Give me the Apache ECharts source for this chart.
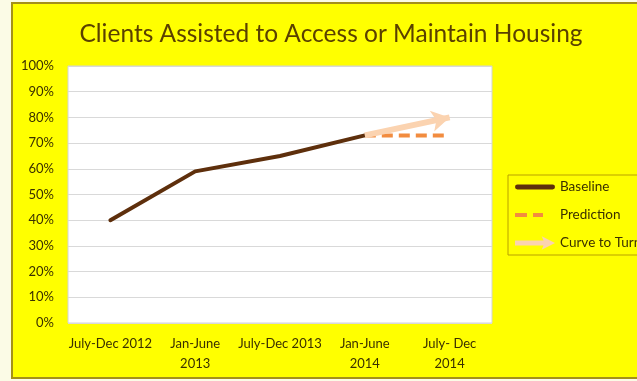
<!DOCTYPE html>
<html>
<head>
<meta charset="utf-8">
<script src="https://cdn.jsdelivr.net/npm/echarts@6/dist/echarts.min.js"></script>
<style>
  html, body { margin: 0; padding: 0; width: 637px; height: 381px; overflow: hidden; background: #fbfbe6; }
  #frame {
    position: absolute; left: 11px; top: 2px; width: 640px; height: 377px;
    box-sizing: border-box; border: 2px solid #a4901a; background: #ffff00;
  }
  #chart { width: 636px; height: 373px; }
</style>
</head>
<body>
<div id="frame"><div id="chart"></div></div>
<script>
// Reporting periods along the horizontal axis
const periods = ['July-Dec 2012', 'Jan-June\n2013', 'July-Dec 2013', 'Jan-June\n2014', 'July- Dec\n2014'];
// Share of clients assisted (%)
const baseline = [40, 59, 65, 73, null];
const prediction = [null, null, null, 73, 73];
const curveToTurn = [null, null, null, 73, 80];
// Percent axis
const yMin = 0, yMax = 100, yStep = 10;

const font = 'Lato, "Open Sans", sans-serif';
const textDark = '#3a3000';

const chart = echarts.init(document.getElementById('chart'), null, { renderer: 'canvas' });

// Segment of the curve series as [start, end] coordinates on the axes
const curvePts = curveToTurn
  .map((v, i) => (v == null ? null : [i, v]))
  .filter(Boolean);

chart.setOption({
  animation: false,
  backgroundColor: 'transparent',
  title: {
    text: 'Clients Assisted to Access or Maintain Housing',
    left: 'center',
    top: 13,
    textStyle: { fontFamily: font, fontSize: 24.5, fontWeight: 'normal', color: '#5a4000' }
  },
  grid: {
    left: 55, top: 62, width: 424, height: 257,
    show: true, backgroundColor: '#ffffff', borderColor: '#d4d4d4', borderWidth: 1
  },
  legend: {
    orient: 'vertical',
    left: 495, top: 171,
    padding: [5, 60, 5, 7],
    itemGap: 14, itemWidth: 40, itemHeight: 14,
    borderColor: '#b8a100', borderWidth: 1,
    textStyle: { fontFamily: font, fontSize: 13.5, color: textDark },
    data: [
      { name: 'Baseline', icon: 'path://M0,0 M2,4.5 L38,4.5 A2.5,2.5 0 0 1 38,9.5 L2,9.5 A2.5,2.5 0 0 1 2,4.5 Z M40,14', itemStyle: { color: '#5e2f0c' } },
      { name: 'Prediction', icon: 'path://M0,0 M0,5 L12,5 L12,9 L0,9 Z M18,5 L28,5 L28,9 L18,9 Z M40,14', itemStyle: { color: '#f28c3f' } },
      { name: 'Curve to Turn', icon: 'path://M0,0 M0,4.5 L30,4.5 L28,0 L42,7 L28,14 L30,9.5 L0,9.5 Z M42,14', itemStyle: { color: '#fbd3b0' } }
    ]
  },
  xAxis: {
    type: 'category',
    data: periods,
    boundaryGap: true,
    axisLine: { show: false },
    axisTick: { show: false },
    axisLabel: {
      interval: 0, margin: 11, lineHeight: 20, verticalAlign: 'top',
      fontFamily: font, fontSize: 13, color: textDark
    }
  },
  yAxis: {
    type: 'value',
    min: yMin, max: yMax, interval: yStep,
    axisLine: { show: false },
    axisTick: { show: false },
    splitLine: { lineStyle: { color: '#d9d9d9', width: 1 } },
    axisLabel: { formatter: '{value}%', margin: 14, fontFamily: font, fontSize: 13, color: textDark }
  },
  series: [
    {
      name: 'Baseline', type: 'line', data: baseline,
      symbol: 'none', z: 3,
      lineStyle: { color: '#5e2f0c', width: 4, cap: 'round', join: 'round' },
      itemStyle: { color: '#5e2f0c' }
    },
    {
      name: 'Prediction', type: 'line', data: prediction,
      symbol: 'none', z: 2,
      lineStyle: { color: '#f28c3f', width: 4, type: [11, 6] },
      itemStyle: { color: '#f28c3f' }
    },
    {
      name: 'Curve to Turn', type: 'line', data: curveToTurn,
      symbol: 'none', z: 4,
      lineStyle: { opacity: 0 },
      itemStyle: { color: '#fbd3b0' },
      markLine: {
        silent: true,
        symbol: ['none', 'arrow'],
        symbolSize: [16, 18],
        label: { show: false },
        lineStyle: { color: '#fbd3b0', width: 6, type: 'solid' },
        data: [[{ coord: curvePts[0] }, { coord: curvePts[1] }]]
      }
    }
  ]
});
</script>
</body>
</html>
